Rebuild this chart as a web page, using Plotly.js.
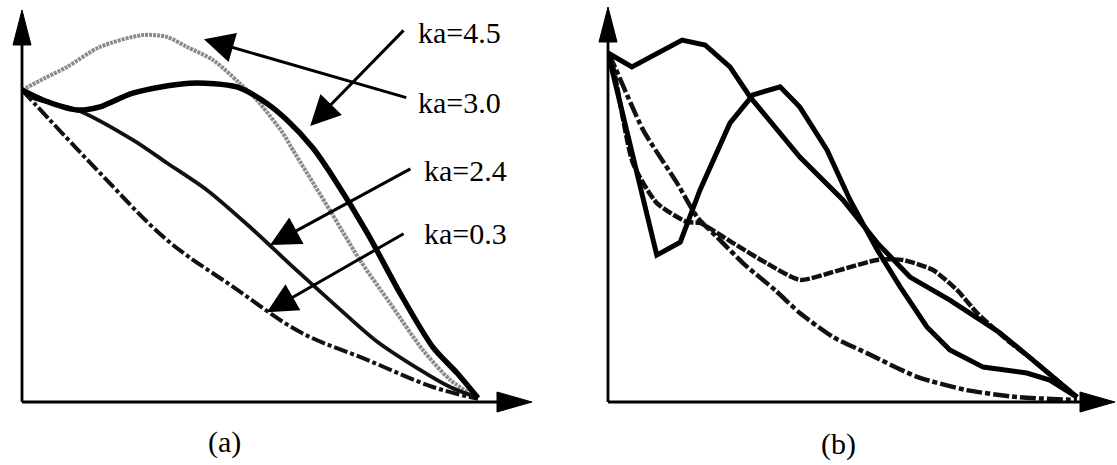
<!DOCTYPE html>
<html>
<head>
<meta charset="utf-8">
<script src="https://cdn.plot.ly/plotly-3.0.1.min.js"></script>
<style>html,body{margin:0;padding:0;background:#fff;}#chart{width:1117px;height:465px;}</style>
</head>
<body>
<div id="chart"></div>
<script>
// ---------- Panel (a) data (normalised: x 0..1 along the axis, y = 1 at the common start) ----------
const a_ka45_x = [0, 0.050, 0.099, 0.171, 0.265, 0.318, 0.362, 0.419, 0.474, 0.515, 0.572, 0.594, 0.675, 0.741, 0.807, 0.879, 0.939, 0.998];
const a_ka45_y = [1.0, 1.038, 1.074, 1.138, 1.176, 1.170, 1.138, 1.096, 1.026, 0.968, 0.862, 0.808, 0.615, 0.455, 0.317, 0.167, 0.071, 0.013];

const a_ka30_x = [0, 0.046, 0.121, 0.171, 0.243, 0.368, 0.471, 0.526, 0.581, 0.638, 0.682, 0.757, 0.829, 0.901, 0.954, 1.0];
const a_ka30_y = [1.0, 0.968, 0.936, 0.946, 0.990, 1.022, 1.010, 0.968, 0.904, 0.814, 0.721, 0.542, 0.349, 0.176, 0.093, 0.013];

const a_ka24_x = [0, 0.024, 0.121, 0.243, 0.318, 0.406, 0.500, 0.594, 0.682, 0.774, 0.873, 0.939, 1.0];
const a_ka24_y = [1.0, 0.974, 0.936, 0.840, 0.766, 0.679, 0.561, 0.433, 0.317, 0.199, 0.103, 0.048, 0.013];

const a_ka03_x = [0, 0.061, 0.171, 0.318, 0.463, 0.610, 0.757, 0.901, 1.0];
const a_ka03_y = [1.0, 0.904, 0.734, 0.519, 0.369, 0.224, 0.135, 0.048, 0.010];

// ---------- Panel (b) data ----------
const b_c1_x = [0, 0.051, 0.158, 0.207, 0.260, 0.303, 0.409, 0.501, 0.574, 0.644, 0.729, 0.836, 0.906, 1.0];
const b_c1_y = [1.0, 0.960, 1.037, 1.023, 0.960, 0.874, 0.702, 0.579, 0.456, 0.358, 0.292, 0.198, 0.120, 0.014];

const b_c2_x = [0, 0.104, 0.154, 0.196, 0.260, 0.309, 0.367, 0.409, 0.467, 0.516, 0.574, 0.623, 0.680, 0.729, 0.800, 0.893, 0.942, 1.0];
const b_c2_y = [1.0, 0.421, 0.458, 0.607, 0.799, 0.880, 0.903, 0.845, 0.722, 0.579, 0.436, 0.330, 0.215, 0.149, 0.100, 0.083, 0.063, 0.014];

const b_c3_x = [0, 0.011, 0.053, 0.104, 0.168, 0.196, 0.266, 0.338, 0.409, 0.494, 0.574, 0.629, 0.693, 0.744, 0.787, 0.851, 0.906, 1.0];
const b_c3_y = [1.0, 0.960, 0.685, 0.570, 0.516, 0.513, 0.456, 0.398, 0.350, 0.378, 0.407, 0.407, 0.378, 0.321, 0.255, 0.178, 0.120, 0.014];

const b_c4_x = [0, 0.011, 0.075, 0.147, 0.190, 0.232, 0.292, 0.356, 0.409, 0.480, 0.552, 0.659, 0.765, 0.872, 1.0];
const b_c4_y = [1.0, 0.971, 0.779, 0.628, 0.530, 0.473, 0.393, 0.321, 0.255, 0.186, 0.140, 0.072, 0.034, 0.014, 0.006];

// ---------- Labels ----------
const curveLabels = ['ka=4.5', 'ka=3.0', 'ka=2.4', 'ka=0.3'];
const panelLabels = ['(a)', '(b)'];

// ---------- Layout helpers (pixel -> paper) ----------
const W = 1117, H = 465;
const PX = v => v / W;
const PY = v => 1 - v / H;

const traces = [
  {x: a_ka45_x, y: a_ka45_y, xaxis: 'x', yaxis: 'y', mode: 'lines', line: {color: '#8a8a8a', width: 4, shape: 'spline', smoothing: 0.8, dash: '3px,1px'}},
  {x: a_ka03_x, y: a_ka03_y, xaxis: 'x', yaxis: 'y', mode: 'lines', line: {color: '#111', width: 4, shape: 'spline', dash: '14px,3px,4px,3px'}},
  {x: a_ka24_x, y: a_ka24_y, xaxis: 'x', yaxis: 'y', mode: 'lines', line: {color: '#111', width: 3.8, shape: 'spline', smoothing: 0.8}},
  {x: a_ka30_x, y: a_ka30_y, xaxis: 'x', yaxis: 'y', mode: 'lines', line: {color: '#000', width: 5.5, shape: 'spline', smoothing: 0.8}},

  {x: b_c4_x, y: b_c4_y, xaxis: 'x2', yaxis: 'y2', mode: 'lines', line: {color: '#111', width: 4.5, shape: 'spline', smoothing: 0.6, dash: '16px,3px,5px,3px'}},
  {x: b_c3_x, y: b_c3_y, xaxis: 'x2', yaxis: 'y2', mode: 'lines', line: {color: '#111', width: 4.5, shape: 'spline', smoothing: 0.6, dash: '10px,2px'}},
  {x: b_c1_x, y: b_c1_y, xaxis: 'x2', yaxis: 'y2', mode: 'lines', line: {color: '#000', width: 5, shape: 'linear'}},
  {x: b_c2_x, y: b_c2_y, xaxis: 'x2', yaxis: 'y2', mode: 'lines', line: {color: '#000', width: 5, shape: 'linear'}}
];
traces.forEach(t => { t.hoverinfo = 'skip'; t.showlegend = false; t.cliponaxis = false; });

const hiddenAxis = {showline: false, showgrid: false, zeroline: false, showticklabels: false, ticks: '', fixedrange: true};

// panel (a): x 0 -> px 22, 1 -> px 478 ; y 0 -> py 402, 1 -> py 90
// panel (b): x 0 -> px 608, 1 -> px 1077 ; y 0 -> py 402, 1 -> py 53
const layout = {
  width: W, height: H,
  margin: {l: 0, r: 0, t: 0, b: 0},
  paper_bgcolor: '#fff', plot_bgcolor: 'rgba(0,0,0,0)',
  showlegend: false,
  xaxis: Object.assign({}, hiddenAxis, {domain: [PX(22), PX(532)], range: [0, 510 / 456]}),
  yaxis: Object.assign({}, hiddenAxis, {domain: [PY(402), PY(10)], range: [0, 392 / 312]}),
  xaxis2: Object.assign({}, hiddenAxis, {domain: [PX(608), PX(1115)], range: [0, 507 / 469]}),
  yaxis2: Object.assign({}, hiddenAxis, {domain: [PY(402), PY(7)], range: [0, 395 / 349]}),
  shapes: [],
  annotations: []
};

// axis lines with arrowheads
function axisArrow(x0, y0, x1, y1, dir) {
  layout.shapes.push({type: 'line', xref: 'paper', yref: 'paper', x0: PX(x0), y0: PY(y0), x1: PX(x1), y1: PY(y1), line: {color: '#000', width: 2.8}});
  let p;
  if (dir === 'up') {
    p = `M${PX(x1)},${PY(y1 - 35)} L${PX(x1 - 9)},${PY(y1)} L${PX(x1 + 9)},${PY(y1)} Z`;
  } else {
    p = `M${PX(x1 + 35)},${PY(y1)} L${PX(x1)},${PY(y1 - 10)} L${PX(x1)},${PY(y1 + 10)} Z`;
  }
  layout.shapes.push({type: 'path', xref: 'paper', yref: 'paper', path: p, fillcolor: '#000', line: {color: '#000', width: 1}});
}
axisArrow(22, 402, 22, 45, 'up');
axisArrow(22, 402, 497, 402, 'right');
axisArrow(608, 402, 608, 42, 'up');
axisArrow(608, 402, 1080, 402, 'right');

// label arrows in panel (a) (data coords)
const arrowDefs = [
  {tail: [0.840, 1.196], tip: [0.632, 0.885]},
  {tail: [0.846, 0.974], tip: [0.399, 1.163]},
  {tail: [0.855, 0.750], tip: [0.544, 0.503]},
  {tail: [0.840, 0.542], tip: [0.537, 0.288]}
];
arrowDefs.forEach(d => {
  layout.annotations.push({
    xref: 'x', yref: 'y', axref: 'x', ayref: 'y',
    x: d.tip[0], y: d.tip[1], ax: d.tail[0], ay: d.tail[1],
    text: '', showarrow: true, arrowhead: 2, arrowsize: 2, arrowwidth: 3, arrowcolor: '#000', standoff: 0
  });
});

// label texts
const labelPos = [[416, 32], [416, 103], [422, 170], [422, 234]];
curveLabels.forEach((t, i) => {
  layout.annotations.push({
    xref: 'paper', yref: 'paper', x: PX(labelPos[i][0]), y: PY(labelPos[i][1]),
    xanchor: 'left', yanchor: 'middle', showarrow: false, text: t,
    font: {family: 'Liberation Serif, Times New Roman, serif', size: 30, color: '#000'}
  });
});

// panel labels
const panelPos = [[224, 442], [838, 444]];
panelLabels.forEach((t, i) => {
  layout.annotations.push({
    xref: 'paper', yref: 'paper', x: PX(panelPos[i][0]), y: PY(panelPos[i][1]),
    xanchor: 'center', yanchor: 'middle', showarrow: false, text: t,
    font: {family: 'Liberation Serif, Times New Roman, serif', size: 30, color: '#000'}
  });
});

Plotly.newPlot('chart', traces, layout, {staticPlot: true, displayModeBar: false});
</script>
</body>
</html>
